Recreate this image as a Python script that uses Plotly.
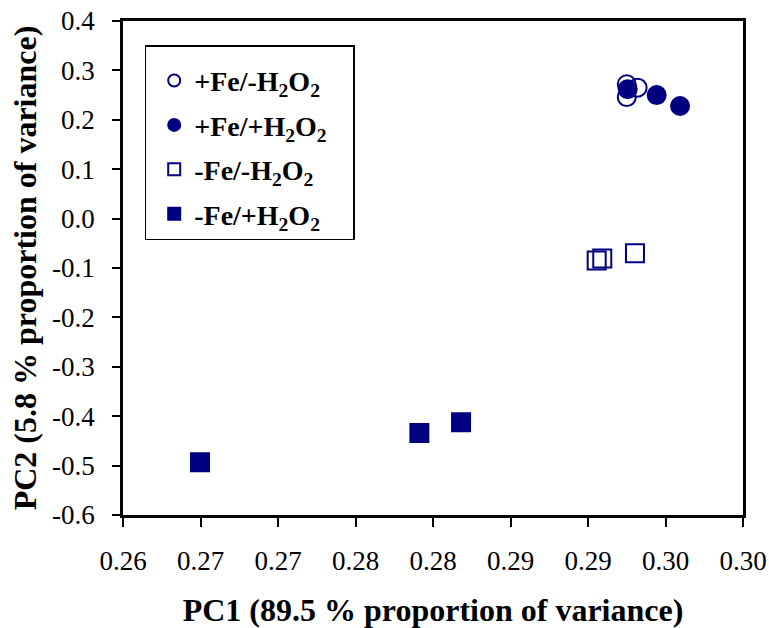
import plotly.graph_objects as go

# Data
open_circ_x = [0.2925, 0.2925, 0.2932]
open_circ_y = [0.272, 0.246, 0.265]
fill_circ_x = [0.29256, 0.29443, 0.29594]
fill_circ_y = [0.262, 0.250, 0.228]
open_sq_x = [0.29056, 0.29092, 0.29303]
open_sq_y = [-0.085, -0.081, -0.070]
fill_sq_x = [0.26497, 0.27912, 0.28181]
fill_sq_y = [-0.493, -0.434, -0.412]

names = ["+Fe/-H<sub>2</sub>O<sub>2</sub>", "+Fe/+H<sub>2</sub>O<sub>2</sub>",
         "-Fe/-H<sub>2</sub>O<sub>2</sub>", "-Fe/+H<sub>2</sub>O<sub>2</sub>"]

x_tickvals = [0.260, 0.265, 0.270, 0.275, 0.280, 0.285, 0.290, 0.295, 0.300]
x_ticktext = ["0.26", "0.27", "0.27", "0.28", "0.28", "0.29", "0.29", "0.30", "0.30"]
y_tickvals = [0.4, 0.3, 0.2, 0.1, 0.0, -0.1, -0.2, -0.3, -0.4, -0.5, -0.6]
y_ticktext = ["0.4", "0.3", "0.2", "0.1", "0.0", "-0.1", "-0.2", "-0.3", "-0.4", "-0.5", "-0.6"]

navy = "#000080"
fig = go.Figure()
series = [
    (open_circ_x, open_circ_y, "circle-open", names[0]),
    (fill_circ_x, fill_circ_y, "circle", names[1]),
    (open_sq_x, open_sq_y, "square-open", names[2]),
    (fill_sq_x, fill_sq_y, "square", names[3]),
]
for i, (xs, ys, sym, nm) in enumerate(series):
    fig.add_trace(go.Scatter(
        x=xs, y=ys, mode="markers", name=nm + "\u00a0\u00a0\u00a0",
        legendgroup=str(i),
        marker=dict(symbol=sym, size=18, color=navy,
                    line=dict(color=navy, width=2)),
    ))

font_family = "Liberation Serif, Times New Roman, serif"
fig.update_layout(
    width=769, height=628,
    margin=dict(l=123, r=26, t=21, b=113),
    paper_bgcolor="white", plot_bgcolor="white",
    font=dict(family=font_family, color="black", size=24),
    showlegend=True,
    legend=dict(x=0.035, y=0.951, xanchor="left", yanchor="top",
                bordercolor="black", borderwidth=1.5, bgcolor="white",
                font=dict(family=font_family, size=28, color="black",
                          weight="bold"),
                title=dict(text="\u00a0", font=dict(size=7)),
                indentation=8,
                tracegroupgap=5, itemsizing="constant"),
    xaxis=dict(range=[0.26, 0.30], tickvals=x_tickvals, ticktext=x_ticktext,
               showgrid=False, zeroline=False, showline=True, linecolor="black",
               linewidth=2.5, mirror=True, ticks="outside", ticklen=9,
               tickwidth=1.5, tickcolor="black", ticklabelstandoff=11,
               tickfont=dict(size=27), automargin=False,
               title=dict(text="<b>PC1 (89.5 % proportion of variance)</b>",
                          font=dict(size=32), standoff=26)),
    yaxis=dict(range=[-0.6, 0.4], tickvals=y_tickvals, ticktext=y_ticktext,
               showgrid=False, zeroline=False, showline=True, linecolor="black",
               linewidth=2.5, mirror=True, ticks="outside", ticklen=8,
               tickwidth=1.5, tickcolor="black", ticklabelstandoff=12,
               tickfont=dict(size=27), automargin=False,
               title=dict(text="<b>PC2 (5.8 % proportion of variance)</b>",
                          font=dict(size=32), standoff=6)),
)

fig.write_html("out.html", config={"displayModeBar": False},
               post_script="document.body.style.margin='0';")
